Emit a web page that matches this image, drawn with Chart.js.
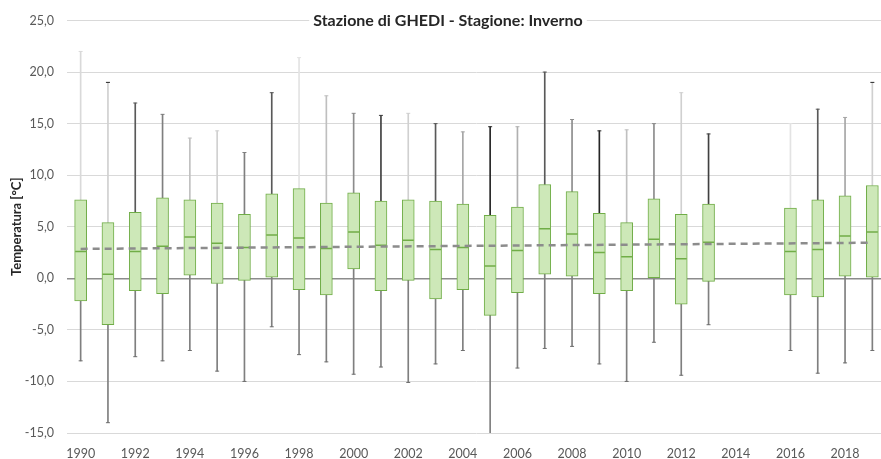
<!DOCTYPE html>
<html>
<head>
<meta charset="utf-8">
<script src="https://cdn.jsdelivr.net/npm/chart.js@4/dist/chart.umd.min.js"></script>
<style>
  html, body { margin: 0; padding: 0; background: #fff; overflow: hidden; }
  #wrap { width: 893px; height: 459px; }
</style>
</head>
<body>
<div id="wrap"><canvas id="myChart" width="893" height="459"></canvas></div>
<script>
var chartTitle = "Stazione di GHEDI - Stagione: Inverno";
var yTitle = "Temperatura [°C]";

var years = ["1990","1991","1992","1993","1994","1995","1996","1997","1998","1999",
             "2000","2001","2002","2003","2004","2005","2006","2007","2008","2009",
             "2010","2011","2012","2013","2014","2015","2016","2017","2018","2019"];

// min / q1 / mediana / q3 / max per anno (2014, 2015 mancanti)
var mins = [-8.0,-14.0,-7.6,-8.0,-7.0,-9.0,-10.0,-4.7,-7.4,-8.1,
            -9.3,-8.6,-10.1,-8.3,-7.0,-15.3,-8.7,-6.8,-6.6,-8.3,
            -10.0,-6.2,-9.4,-4.5,null,null,-7.0,-9.2,-8.2,-7.0];
var q1s = [-2.2,-4.5,-1.2,-1.5,0.3,-0.5,-0.2,0.1,-1.1,-1.6,
           0.9,-1.2,-0.2,-2.0,-1.1,-3.6,-1.4,0.4,0.2,-1.5,
           -1.2,0.0,-2.5,-0.3,null,null,-1.6,-1.8,0.2,0.1];
var medians = [2.6,0.4,2.6,3.1,4.0,3.4,3.0,4.2,3.9,2.9,
               4.5,3.2,3.7,2.8,3.0,1.2,2.7,4.8,4.3,2.5,
               2.1,3.8,1.9,3.5,null,null,2.6,2.8,4.1,4.5];
var q3s = [7.6,5.4,6.4,7.8,7.6,7.3,6.2,8.2,8.7,7.3,
           8.3,7.5,7.6,7.5,7.2,6.1,6.9,9.1,8.4,6.3,
           5.4,7.7,6.2,7.2,null,null,6.8,7.6,8.0,9.0];
var maxs = [22.0,19.0,17.0,15.9,13.6,14.3,12.2,18.0,21.4,17.7,
            16.0,15.8,16.0,15.0,14.2,14.7,14.7,20.0,15.4,14.3,
            14.4,15.0,18.0,14.0,null,null,15.0,16.4,15.6,19.0];
// linea di tendenza: valori letti agli estremi
var trend = [2.85,null,null,null,null,null,null,null,null,null,
             null,null,null,null,null,null,null,null,null,null,
             null,null,null,null,null,null,null,null,null,3.45];

var yTicks = [-15, -10, -5, 0, 5, 10, 15, 20, 25];

// stili dei baffi superiori (sfumature di grigio diverse)
var upShade = ["#d9d9d9","#d0d0d0","#595959","#7f7f7f","#c0c0c0","#d0d0d0","#7f7f7f","#595959","#e3e3e3","#bfbfbf",
               "#8c8c8c","#404040","#d0d0d0","#595959","#a6a6a6","#262626","#b0b0b0","#595959","#8c8c8c","#262626",
               "#c0c0c0","#8c8c8c","#d0d0d0","#404040","#fff","#fff","#e3e3e3","#595959","#a6a6a6","#d0d0d0"];
var capShade = upShade.slice();
capShade[1] = "#262626"; capShade[29] = "#262626";

function pairs(a, b){
  return a.map(function(v, i){
    if(v == null || b[i] == null) return null;
    return [v, b[i]];
  });
}

var titlePlugin = {
  id: 'titleBox',
  afterDraw: function(chart){
    var ctx = chart.ctx;
    ctx.save();
    ctx.font = 'bold 16px Lato';
    var w = ctx.measureText(chartTitle).width;
    var cx = 448, cy = 21;
    ctx.fillStyle = '#fff';
    ctx.fillRect(cx - w/2 - 4, cy - 11, w + 8, 22);
    ctx.fillStyle = '#262626';
    ctx.textAlign = 'center';
    ctx.textBaseline = 'middle';
    ctx.fillText(chartTitle, cx, cy);
    ctx.restore();
  }
};

var ctx = document.getElementById("myChart");
var chart = new Chart(ctx, {
  type: 'bar',
  data: {
    labels: years,
    datasets: [
      {
        type: 'line', data: trend, spanGaps: true,
        borderColor: '#8c8c8c', borderWidth: 2.5, borderDash: [7, 5],
        pointRadius: 0, fill: false, order: 0
      },
      {
        type: 'line', data: maxs, showLine: false,
        pointStyle: 'line', pointRadius: 2, pointBorderWidth: 1,
        pointBorderColor: capShade, order: 1
      },
      {
        type: 'line', data: mins, showLine: false,
        pointStyle: 'line', pointRadius: 2, pointBorderWidth: 1,
        pointBorderColor: '#6f6f6f', order: 1
      },
      {
        type: 'line', data: medians, showLine: false,
        pointStyle: 'line', pointRadius: 5.5, pointBorderWidth: 1.5,
        pointBorderColor: '#70ad47', order: 2
      },
      {
        data: pairs(q1s, q3s), grouped: false, barThickness: 12,
        backgroundColor: '#cde8b8', borderColor: '#70ad47', borderWidth: 1,
        borderSkipped: false, order: 3
      },
      {
        data: pairs(q3s, maxs), grouped: false, barThickness: 1,
        backgroundColor: upShade, order: 5
      },
      {
        data: pairs(mins, q1s), grouped: false, barThickness: 1,
        backgroundColor: '#7f7f7f', order: 5
      }
    ]
  },
  options: {
    responsive: false,
    animation: false,
    layout: { padding: { top: 14, right: 0, left: 0, bottom: 0 } },
    plugins: {
      legend: { display: false },
      tooltip: { enabled: false },
      title: { display: false }
    },
    scales: {
      x: {
        grid: { display: false, drawTicks: false },
        border: { display: false },
        ticks: {
          autoSkip: false, maxRotation: 0, padding: 13,
          color: '#595959', font: { family: 'Lato', size: 12.5 },
          callback: function(val, i){ return (i % 2 == 0) ? years[i] : ''; }
        },
        afterFit: function(s){ s.height = 26; }
      },
      y: {
        min: -15, max: 25,
        afterBuildTicks: function(s){ s.ticks = yTicks.map(function(v){ return { value: v }; }); },
        grid: {
          drawTicks: false,
          color: function(c){ return c.tick && c.tick.value === 0 ? '#8c8c8c' : '#d9d9d9'; },
          lineWidth: function(c){ return c.tick && c.tick.value === 0 ? 1.5 : 1; }
        },
        border: { display: false },
        ticks: {
          padding: 13, color: '#595959', font: { family: 'Lato', size: 12.5 },
          callback: function(v){ return v.toFixed(1).replace('.', ','); }
        },
        title: {
          display: true, text: yTitle, color: '#262626',
          font: { family: 'Lato', size: 13, weight: 'bold' },
          padding: { top: 9, bottom: 0 }
        },
        afterFit: function(s){ s.width = 67; }
      }
    }
  },
  plugins: [titlePlugin]
});
</script>
</body>
</html>
